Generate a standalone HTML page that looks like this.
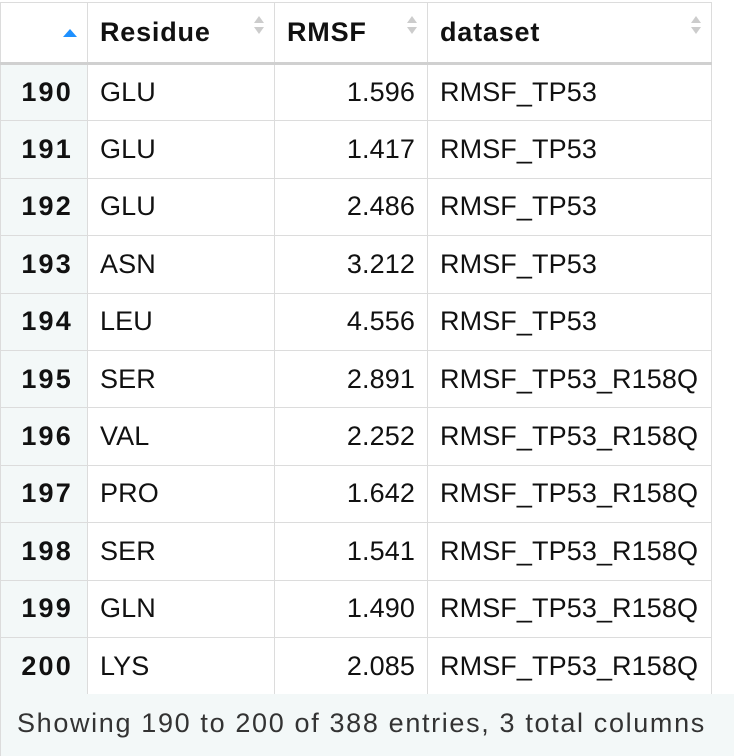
<!DOCTYPE html>
<html><head><meta charset="utf-8"><style>
body{margin:0;width:734px;height:756px;background:#fff;font-family:"Liberation Sans",Arial,sans-serif;overflow:hidden;position:relative;color:#111}
.t{position:absolute;left:0;top:2px;width:711px;border-collapse:collapse;table-layout:fixed}
td,th{border:1.5px solid #dcdcdc;height:57.4px;padding:0 12px;font-size:27px;letter-spacing:0.1px;box-sizing:border-box;white-space:nowrap;overflow:visible}
th{height:61px;text-align:left;font-weight:bold;position:relative;border-bottom:3px solid #d0d0d0;letter-spacing:0.8px}
td.i{background:#f3f8f8;font-weight:bold;text-align:right;padding:0 14px 0 4px;letter-spacing:2.2px}
td.n{text-align:right;padding-right:12px}
.s{position:absolute;right:10px;top:13px;width:10px;height:24px}
.s:before{content:"";position:absolute;left:0;top:0;border-left:5px solid transparent;border-right:5px solid transparent;border-bottom:7px solid #ccc}
.s:after{content:"";position:absolute;left:0;top:11px;border-left:5px solid transparent;border-right:5px solid transparent;border-top:7px solid #ccc}
.up{position:absolute;left:62px;top:26px;border-left:7px solid transparent;border-right:7px solid transparent;border-bottom:8px solid #1e90ff}
.f{position:absolute;left:0;top:694px;width:734px;height:62px;background:#f3f8f8;border-left:1.5px solid #dcdcdc;font-size:27px;letter-spacing:1.65px;line-height:58px;padding-left:16px;box-sizing:border-box;color:#333;white-space:nowrap}
</style></head><body>
<table class="t">
<colgroup><col style="width:87px"><col style="width:187px"><col style="width:153px"><col style="width:284px"></colgroup>
<tr>
<th><span class="up"></span></th>
<th>Residue<span class="s"></span></th>
<th>RMSF<span class="s"></span></th>
<th>dataset<span class="s"></span></th></tr>
<tbody id="tb"></tbody></table>
<div class="f">Showing 190 to 200 of 388 entries, 3 total columns</div>
<script>
const idx=[190,191,192,193,194,195,196,197,198,199,200];
const residues=["GLU","GLU","GLU","ASN","LEU","SER","VAL","PRO","SER","GLN","LYS"];
const rmsf=["1.596","1.417","2.486","3.212","4.556","2.891","2.252","1.642","1.541","1.490","2.085"];
const datasets=["RMSF_TP53","RMSF_TP53","RMSF_TP53","RMSF_TP53","RMSF_TP53","RMSF_TP53_R158Q","RMSF_TP53_R158Q","RMSF_TP53_R158Q","RMSF_TP53_R158Q","RMSF_TP53_R158Q","RMSF_TP53_R158Q"];
const tb=document.getElementById('tb');
idx.forEach((v,k)=>{
const tr=document.createElement('tr');


const vals=[v,residues[k],rmsf[k],datasets[k]],cls=['i','','n',''],nm=['index','residue','rmsf','dataset'];
vals.forEach((x,j)=>{const td=document.createElement('td');td.textContent=x;if(cls[j])td.className=cls[j];


tr.appendChild(td);});
tb.appendChild(tr);});
</script>
</body></html>
